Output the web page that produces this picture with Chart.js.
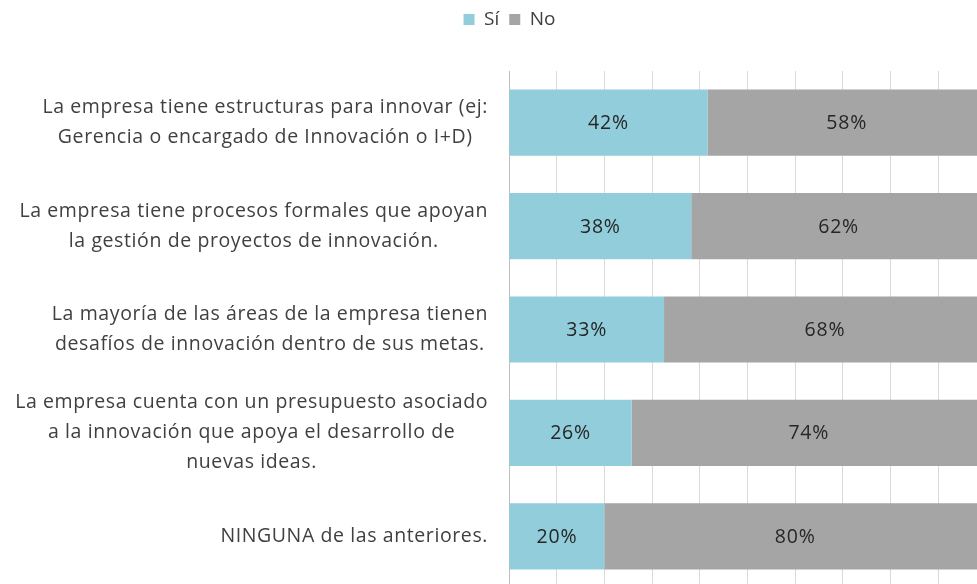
<!DOCTYPE html>
<html>
<head>
<meta charset="utf-8">
<script src="https://cdn.jsdelivr.net/npm/chart.js@4.4.1/dist/chart.umd.min.js"></script>
<style>
    html, body { margin: 0; padding: 0; overflow: hidden; background: #fff; }
    body { width: 977px; height: 584px; }
    #wrap { position: relative; width: 1019px; height: 600px; }
</style>
</head>
<body>
<div id="wrap"><canvas id="innovationChart"></canvas></div>
<script>
const categories = [
    ["La empresa tiene estructuras para innovar (ej:", "Gerencia o encargado de Innovación o I+D)"],
    ["La empresa tiene procesos formales que apoyan", "la gestión de proyectos de innovación."],
    ["La mayoría de las áreas de la empresa tienen", "desafíos de innovación dentro de sus metas."],
    ["La empresa cuenta con un presupuesto asociado", "a la innovación que apoya el desarrollo de", "nuevas ideas."],
    ["NINGUNA de las anteriores."],
];
const siValues = [41.6, 38.2, 32.5, 25.7, 20.0];
const noValues = [58.4, 61.8, 67.5, 74.3, 80.0];
const seriesNames = ["Sí", "No"];

const FONT = "'Open Sans'";

// push the plot down below the legend, and center the legend on the whole canvas
const legendSpacer = {
    id: "legendSpacer",
    beforeInit(chart) {
        const fit = chart.legend.fit;
        chart.legend.fit = function () {
            fit.bind(chart.legend)();
            this.height += 32;
        };
    },
    afterLayout(chart) {
        chart.legend.right = chart.width;
    },
};

// category labels: block right-aligned, lines centered within the block
const categoryLabels = {
    id: "categoryLabels",
    afterDraw(chart) {
        const ctx = chart.ctx;
        const yScale = chart.scales.y;
        const right = chart.chartArea.left - 21;
        ctx.save();
        ctx.font = "19.5px " + FONT;
        ctx.letterSpacing = "0.6px";
        ctx.fillStyle = "#404040";
        ctx.textAlign = "center";
        ctx.textBaseline = "middle";
        categories.forEach((lines, i) => {
            const w = Math.max(...lines.map((l) => ctx.measureText(l).width));
            const cx = right - w / 2;
            const cy = yScale.getPixelForValue(i);
            lines.forEach((line, j) => {
                ctx.fillText(line, cx, cy + (j - (lines.length - 1) / 2) * 30);
            });
        });
        ctx.restore();
    },
};

// percent labels centered on each segment
const segmentLabels = {
    id: "segmentLabels",
    afterDatasetsDraw(chart) {
        const ctx = chart.ctx;
        ctx.save();
        ctx.font = "19.5px " + FONT;
        ctx.letterSpacing = "0.8px";
        ctx.fillStyle = "#262626";
        ctx.textAlign = "center";
        ctx.textBaseline = "middle";
        chart.data.datasets.forEach((ds, di) => {
            chart.getDatasetMeta(di).data.forEach((bar, i) => {
                const p = bar.getCenterPoint();
                ctx.fillText(Math.round(ds.data[i]) + "%", p.x, p.y + 1);
            });
        });
        ctx.restore();
    },
};

const ctx = document.getElementById("innovationChart");
new Chart(ctx, {
    type: "bar",
    data: {
        labels: categories,
        datasets: [
            {
                label: seriesNames[0],
                data: siValues,
                backgroundColor: "#92CDDC",
            },
            {
                label: seriesNames[1],
                data: noValues,
                backgroundColor: "#A5A5A5",
            },
        ],
    },
    options: {
        indexAxis: "y",
        responsive: true,
        maintainAspectRatio: false,
        animation: false,
        categoryPercentage: 1,
        barPercentage: 0.64,
        layout: {
            padding: { left: 0, right: 33, top: 0, bottom: 12 },
        },
        plugins: {
            legend: {
                position: "top",
                labels: {
                    boxWidth: 11,
                    boxHeight: 11,
                    padding: 10,
                    color: "#404040",
                    font: { family: FONT, size: 19 },
                },
            },
            tooltip: { enabled: false },
        },
        scales: {
            x: {
                stacked: true,
                min: 0,
                max: 100,
                ticks: { display: false, stepSize: 10 },
                grid: { color: "#D9D9D9", drawTicks: false },
                border: { display: false },
            },
            y: {
                stacked: true,
                ticks: { display: false },
                grid: { display: false, drawTicks: false },
                border: { color: "#BFBFBF" },
                afterFit(scale) {
                    scale.width = 509;
                },
            },
        },
    },
    plugins: [legendSpacer, categoryLabels, segmentLabels],
});
</script>
</body>
</html>
